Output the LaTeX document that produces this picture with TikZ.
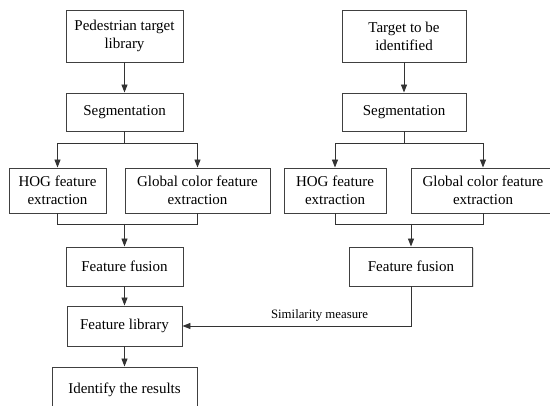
\documentclass[tikz,border=0pt]{standalone}
\usepackage{fontspec}
\setmainfont{Liberation Serif}
\usetikzlibrary{arrows.meta,shadows}
\begin{document}
\begin{tikzpicture}[x=1pt,y=-1pt,
  box/.style={draw=black!75, line width=0.9pt, fill=white, align=center,
    font=\fontsize{15}{18}\selectfont, inner sep=0pt,
    drop shadow={opacity=0.25, shadow xshift=1pt, shadow yshift=-1pt}},
  conn/.style={draw=black!80, line width=0.9pt},
  arr/.style={conn, -{Triangle[length=8pt,width=6pt]}},
  lbl/.style={font=\fontsize{12.8}{15}\selectfont}]
\useasboundingbox (0,0) rectangle (550,406);
\clip (0,0) rectangle (550,406);
\fill[white] (0,0) rectangle (550,406);
% left column
\node[box, minimum width=117, minimum height=52] (ped) at (124.5,36) {Pedestrian target\\library};
\node[box, minimum width=117, minimum height=38] (seg1) at (124.5,112) {Segmentation};
\node[box, minimum width=97, minimum height=45] (hog1) at (57.5,190.5) {HOG feature\\extraction};
\node[box, minimum width=145, minimum height=45] (glob1) at (197.5,190.5) {Global color feature\\extraction};
\node[box, minimum width=117, minimum height=39] (fus1) at (124.5,266.5) {Feature fusion};
\node[box, minimum width=115, minimum height=40] (lib) at (124.5,326) {Feature library};
\node[box, minimum width=145, minimum height=46] (res) at (124.5,390) {Identify the results};
% right column
\node[box, minimum width=124, minimum height=52] (tgt) at (404,36) {Target to be\\identified};
\node[box, minimum width=124, minimum height=38] (seg2) at (404,112) {Segmentation};
\node[box, minimum width=102, minimum height=45] (hog2) at (335,190.5) {HOG feature\\extraction};
\node[box, minimum width=144, minimum height=45] (glob2) at (483,190.5) {Global color feature\\extraction};
\node[box, minimum width=123, minimum height=39] (fus2) at (411,266.5) {Feature fusion};
% junction coordinates
\coordinate (s1) at (124.5,143);
\coordinate (m1) at (124.5,224);
\coordinate (s2) at (404,143);
\coordinate (m2) at (411,224);
\coordinate (c2) at (411,326);
% connectors left
\draw[arr] (ped) -- (seg1);
\draw[conn] (seg1.south) -- (s1);
\draw[arr] (s1) -| (hog1.north);
\draw[arr] (s1) -| (glob1.north);
\draw[conn] (hog1.south) |- (m1);
\draw[conn] (glob1.south) |- (m1);
\draw[arr] (m1) -- (fus1.north);
\draw[arr] (fus1) -- (lib);
\draw[arr] (lib) -- (res);
% connectors right
\draw[arr] (tgt) -- (seg2);
\draw[conn] (seg2.south) -- (s2);
\draw[arr] (s2) -| (hog2.north);
\draw[arr] (s2) -| (glob2.north);
\draw[conn] (hog2.south) |- (m2);
\draw[conn] (glob2.south) |- (m2);
\draw[arr] (m2) -- (fus2.north);
% similarity
\draw[arr] (fus2.south) -- (c2) -- node[lbl, above=1pt, pos=0.40] {Similarity measure} (lib.east);
\end{tikzpicture}
\end{document}
